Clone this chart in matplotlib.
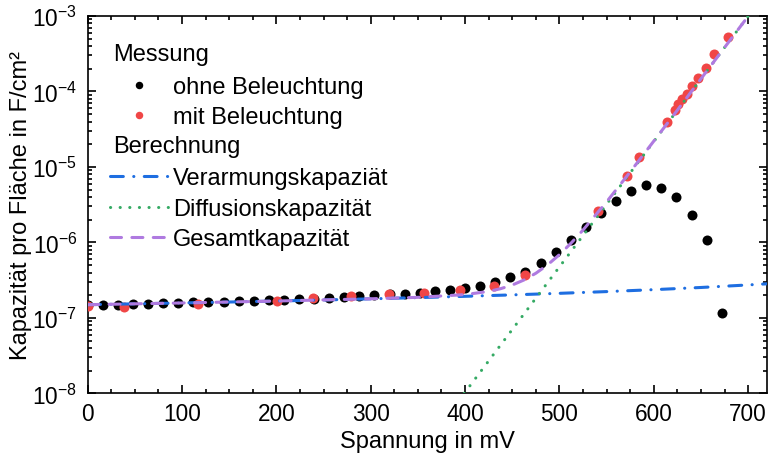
import matplotlib
matplotlib.use("Agg")
import matplotlib.pyplot as plt
from matplotlib.legend_handler import HandlerBase
from matplotlib.text import Text
from matplotlib.ticker import MultipleLocator, LogLocator, NullFormatter

plt.rcParams['font.family'] = ['Liberation Sans', 'DejaVu Sans']
plt.rcParams['mathtext.fontset'] = 'custom'
plt.rcParams['mathtext.rm'] = 'Liberation Sans'
plt.rcParams['mathtext.it'] = 'Liberation Sans:italic'
plt.rcParams['mathtext.default'] = 'regular'

# Messung ohne Beleuchtung (Spannung in mV, Kapazitaet in F/cm^2)
v_ohne = [0, 16, 32, 48, 64, 80, 96, 112, 128, 144, 160, 176, 192, 208, 224,
          240, 256, 272, 288, 304, 320, 336, 352, 368, 384, 400, 416, 432, 448,
          464, 480, 496, 512, 528, 544, 560, 576, 592, 608, 624, 640, 656, 672]
c_ohne = [1.48e-7, 1.50e-7, 1.47e-7, 1.53e-7, 1.55e-7, 1.57e-7, 1.58e-7,
          1.61e-7, 1.63e-7, 1.65e-7, 1.66e-7, 1.68e-7, 1.71e-7, 1.75e-7,
          1.78e-7, 1.81e-7, 1.82e-7, 1.88e-7, 1.94e-7, 2.02e-7, 2.05e-7,
          2.06e-7, 2.14e-7, 2.26e-7, 2.35e-7, 2.50e-7, 2.68e-7, 3.03e-7,
          3.46e-7, 4.10e-7, 5.35e-7, 7.41e-7, 1.08e-6, 1.59e-6, 2.44e-6,
          3.58e-6, 4.85e-6, 5.83e-6, 5.27e-6, 3.97e-6, 2.33e-6, 1.08e-6,
          1.16e-7]

# Messung mit Beleuchtung
v_mit = [0, 38, 117, 201, 239, 279, 319, 356, 395, 431, 464, 541, 572, 584,
         614, 622, 626, 630, 635, 640, 647, 655, 664, 679]
c_mit = [1.46e-7, 1.39e-7, 1.53e-7, 1.69e-7, 1.85e-7, 1.93e-7, 2.06e-7,
         2.14e-7, 2.33e-7, 2.68e-7, 3.71e-7, 2.59e-6, 7.53e-6, 1.34e-5,
         3.98e-5, 5.74e-5, 6.83e-5, 7.96e-5, 9.27e-5, 1.17e-4, 1.50e-4,
         2.03e-4, 3.14e-4, 5.22e-4]

# Berechnung: Verarmungskapazitaet
v_verarm = [0, 50, 100, 150, 200, 250, 300, 350, 400, 450, 500, 550, 600,
            650, 700, 720]
c_verarm = [1.500e-7, 1.539e-7, 1.581e-7, 1.627e-7, 1.677e-7, 1.732e-7,
            1.793e-7, 1.861e-7, 1.936e-7, 2.023e-7, 2.121e-7, 2.236e-7,
            2.372e-7, 2.535e-7, 2.739e-7, 2.835e-7]

# Berechnung: Diffusionskapazitaet
v_diff = [399, 720]
c_diff = [1.0e-8, 2.13e-3]

# Berechnung: Gesamtkapazitaet
v_ges = [0, 100, 200, 300, 350, 400, 425, 437.5, 450, 462.5, 475, 487.5, 500,
         512.5, 525, 550, 575, 600, 625, 650, 675, 700, 720]
c_ges = [1.500e-7, 1.581e-7, 1.677e-7, 1.795e-7, 1.877e-7, 2.04e-7,
         2.25e-7, 2.44e-7, 2.73e-7, 3.19e-7, 3.91e-7, 5.06e-7, 6.90e-7,
         9.85e-7, 1.46e-6, 3.45e-6, 8.60e-6, 2.20e-5, 5.65e-5, 1.47e-4,
         3.82e-4, 9.91e-4, 2.13e-3]

FS = 17
FS_TICK = 16.3
c_rot = '#f04646'
c_blau = '#1e6ee1'
c_gruen = '#35aa64'
c_lila = '#af7ae0'


class Header:
    def __init__(self, text):
        self.text = text


class HeaderHandler(HandlerBase):
    # draws the section title left-aligned at the start of the handle box
    def create_artists(self, legend, orig_handle, xdescent, ydescent,
                       width, height, fontsize, trans):
        t = Text(-xdescent + 2, height / 2 - ydescent, orig_handle.text,
                 fontsize=fontsize, ha='left', va='center', transform=trans)
        return [t]


fig = plt.figure(figsize=(7.71, 4.56), dpi=100)
ax = fig.add_axes([0.1137, 0.1349, 0.8811, 0.8279])

h_ohne, = ax.plot(v_ohne, c_ohne, 'o', color='black', ms=7.2, mew=0,
                  zorder=2, label='ohne Beleuchtung')
h_mit, = ax.plot(v_mit, c_mit, 'o', color=c_rot, ms=7.2, mew=0,
                 zorder=3, label='mit Beleuchtung')
h_verarm, = ax.plot(v_verarm, c_verarm, color=c_blau, lw=2.2,
                    dashes=(4.2, 3.4, 0.05, 3.4), dash_capstyle='round',
                    zorder=4, label='Verarmungskapaziät')
h_diff, = ax.plot(v_diff, c_diff, color=c_gruen, lw=2.2,
                  dashes=(0.05, 3.1), dash_capstyle='round',
                  zorder=5, label='Diffusionskapazität')
h_ges, = ax.plot(v_ges, c_ges, color=c_lila, lw=2.2,
                 dashes=(3.6, 3.4), dash_capstyle='round',
                 zorder=6, label='Gesamtkapazität')

ax.set_yscale('log')
ax.set_xlim(0, 720)
ax.set_ylim(1e-8, 1e-3)

ax.xaxis.set_major_locator(MultipleLocator(100))
ax.xaxis.set_minor_locator(MultipleLocator(25))
ax.yaxis.set_major_locator(LogLocator(base=10, numticks=10))
ax.yaxis.set_minor_locator(LogLocator(base=10, subs=range(2, 10), numticks=20))
ax.yaxis.set_minor_formatter(NullFormatter())

ax.tick_params(which='both', direction='in', top=True, right=True,
               width=1.2, labelsize=FS_TICK)
ax.tick_params(which='major', length=6)
ax.tick_params(which='minor', length=3)
ax.tick_params(axis='x', pad=6)
ax.tick_params(axis='y', pad=7.5)
for sp in ax.spines.values():
    sp.set_linewidth(1.2)

ax.set_xlabel('Spannung in mV', fontsize=FS, labelpad=4)
ax.set_ylabel('Kapazität pro Fläche in F/cm²', fontsize=FS, labelpad=0)

handles = [Header('Messung'), h_ohne, h_mit,
           Header('Berechnung'), h_verarm, h_diff, h_ges]
labels = ['', 'ohne Beleuchtung', 'mit Beleuchtung',
          '', 'Verarmungskapaziät', 'Diffusionskapazität', 'Gesamtkapazität']
ax.legend(handles, labels, handler_map={Header: HeaderHandler()},
          loc='upper left', bbox_to_anchor=(0.033, 0.922), frameon=False,
          fontsize=FS, borderpad=0, borderaxespad=0, handlelength=2.46,
          handletextpad=0.21, labelspacing=0.36, numpoints=1,
          markerscale=0.75)

fig.savefig('out.png', dpi=100)
